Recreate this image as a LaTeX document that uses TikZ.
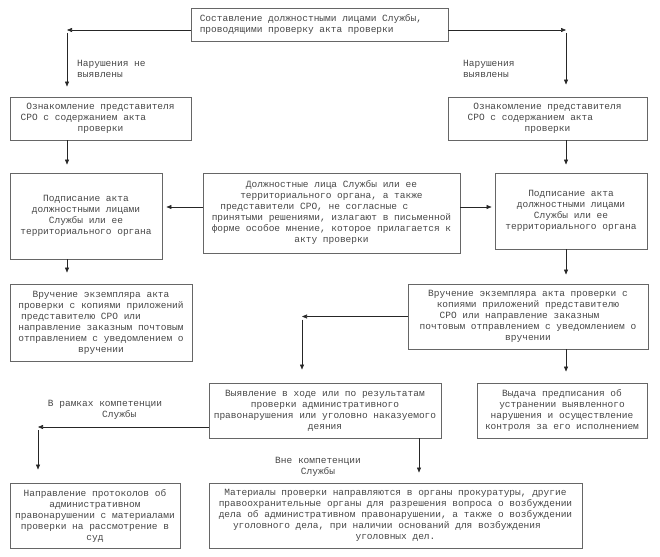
\documentclass[tikz,border=0pt]{standalone}
\usepackage{fontspec}
\newfontfamily\boxfont{Liberation Mono}
\usetikzlibrary{arrows.meta}
\definecolor{txt}{HTML}{474747}
\definecolor{frame}{HTML}{666666}
\definecolor{conn}{HTML}{262626}
\begin{document}
\begin{tikzpicture}[x=1pt,y=-1pt,
  every node/.style={font=\boxfont\fontsize{9.5}{11}\selectfont, text=txt},
  box/.style={draw=frame, line width=0.9pt, align=center, inner sep=1pt},
  lbl/.style={inner sep=0pt},
  arr/.style={draw=conn, line width=0.6pt, -{Triangle[length=5pt,width=4pt]}}]
\useasboundingbox (0,0) rectangle (660,556);

% boxes
\node[box, align=left, minimum width=257pt, minimum height=33pt] (top) at (319.5,24.5)
  {Составление должностными лицами Службы,\hphantom{000}\\проводящими проверку акта проверки};
\node[box, minimum width=181pt, minimum height=43pt] (oznL) at (100.5,118.5)
  {Ознакомление представителя\\СРО с содержанием акта\hphantom{000000}\\проверки};
\node[box, minimum width=199pt, minimum height=43pt] (oznR) at (547.5,118.5)
  {Ознакомление представителя\\СРО с содержанием акта\hphantom{000000}\\проверки};
\node[box, minimum width=152pt, minimum height=86pt] (podL) at (86,216)
  {Подписание акта\\должностными лицами\\Службы или ее\\территориального органа};
\node[box, minimum width=257pt, minimum height=80pt] (mid) at (331.5,213)
  {Должностные лица Службы или ее\\территориального органа, а также\\представители СРО, не согласные с\hphantom{000000}\\принятыми решениями, излагают в письменной\\форме особое мнение, которое прилагается к\\акту проверки};
\node[box, minimum width=152pt, minimum height=76pt] (podR) at (571,211)
  {Подписание акта\\должностными лицами\\Службы или ее\\территориального органа};
\node[box, minimum width=182pt, minimum height=77pt] (vrL) at (101,322.5)
  {Вручение экземпляра акта\\проверки с копиями приложений\\представителю СРО или\hphantom{0000000}\\направление заказным почтовым\\отправлением с уведомлением о\\вручении};
\node[box, minimum width=240pt, minimum height=65pt] (vrR) at (528,316.5)
  {Вручение экземпляра акта проверки с\\копиями приложений представителю\\СРО или направление заказным\hphantom{000}\\почтовым отправлением с уведомлением о\\вручении};
\node[box, minimum width=232pt, minimum height=55pt] (vyav) at (325,410.5)
  {Выявление в ходе или по результатам\\проверки административного\\правонарушения или уголовно наказуемого\\деяния};
\node[box, minimum width=170pt, minimum height=55pt] (vyd) at (562,410.5)
  {Выдача предписания об\\устранении выявленного\\нарушения и осуществление\\контроля за его исполнением};
\node[box, minimum width=170pt, minimum height=65pt] (napr) at (95,515.5)
  {Направление протоколов об\\административном\\правонарушении с материалами\\проверки на рассмотрение в\\суд};
\node[box, minimum width=373pt, minimum height=65pt] (mat) at (395.5,515.5)
  {Материалы проверки направляются в органы прокуратуры, другие\\правоохранительные органы для разрешения вопроса о возбуждении\\дела об административном правонарушении, а также о возбуждении\\уголовного дела, при наличии оснований для возбуждения\hphantom{000}\\уголовных дел.};

% labels
\node[lbl, anchor=west, align=left] (l1) at (77,68.5) {Нарушения не\\выявлены};
\node[lbl, anchor=west, align=left] (l2) at (463,68.5) {Нарушения\\выявлены};
\node[lbl, align=center] (l3) at (105,410) {В рамках компетенции\\\hphantom{00000}Службы};
\node[lbl, align=center] (l4) at (318,466.5) {Вне компетенции\\Службы};

% junction points
\coordinate (cL) at (67,30);
\coordinate (cR) at (566,30);
\coordinate (cM) at (302,316.5);
\coordinate (cB) at (38,427);
\coordinate (cV) at (419,438);

% connectors
\draw[arr] ([yshift=-5.5pt]top.west) -- (cL);
\draw[arr, shorten >=10pt] ([yshift=-3pt]cL) -- (cL |- oznL.north);
\draw[arr] ([yshift=-5.5pt]top.east) -- (cR);
\draw[arr, shorten >=12pt] ([yshift=-3pt]cR) -- (cR |- oznR.north);
\draw[arr, shorten >=8pt] (oznL.south -| cL) -- (podL.north -| cL);
\draw[arr, shorten >=8pt] (oznR.south -| cR) -- (podR.north -| cR);
\draw[arr, shorten >=4pt] ([yshift=6pt]mid.west) -- ([yshift=6pt]mid.west -| podL.east);
\draw[arr, shorten >=3pt] ([yshift=6pt]mid.east) -- ([yshift=6pt]mid.east -| podR.west);
\draw[arr, shorten >=11pt] (podL.south -| cL) -- (vrL.north -| cL);
\draw[arr, shorten >=9pt] (podR.south -| cR) -- (vrR.north -| cR);
\draw[arr] (vrR.west) -- (cM);
\draw[arr, shorten >=13pt] ([yshift=-3pt]cM) -- (cM |- vyav.north);
\draw[arr, shorten >=11pt] (vrR.south -| cR) -- (vyd.north -| cR);
\draw[arr] ([yshift=-16.5pt]vyav.west) -- (cB);
\draw[arr, shorten >=13pt] ([yshift=-3pt]cB) -- (cB |- napr.north);
\draw[arr, shorten >=10pt] (vyav.south -| cV) -- (mat.north -| cV);
\end{tikzpicture}
\end{document}
